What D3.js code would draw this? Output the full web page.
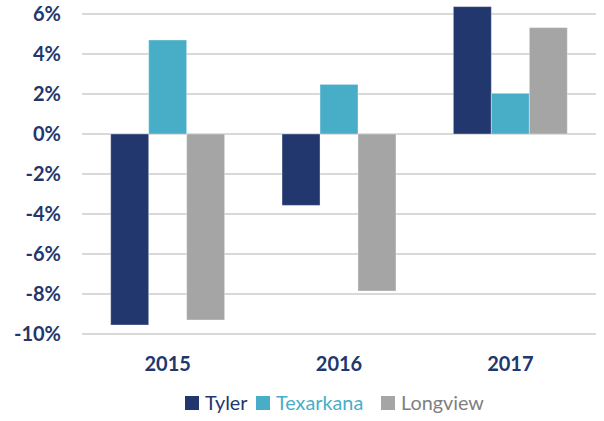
<!DOCTYPE html>
<html>
<head>
<meta charset="utf-8">
<script src="https://cdn.jsdelivr.net/npm/d3@7"></script>
<style>
  body { margin: 0; background: #fff; }
  svg { display: block; }
</style>
</head>
<body>
<div id="chart"></div>
<script>
const years = ['2015', '2016', '2017'];
const seriesNames = ['Tyler', 'Texarkana', 'Longview'];
const tyler = [-9.55, -3.57, 6.37];
const texarkana = [4.7, 2.48, 2.03];
const longview = [-9.3, -7.85, 5.32];
const yTicks = [-10, -8, -6, -4, -2, 0, 2, 4, 6];

const seriesValues = { Tyler: tyler, Texarkana: texarkana, Longview: longview };
const barColor = { Tyler: '#22376e', Texarkana: '#48aec8', Longview: '#a5a5a5' };
const textColor = { Tyler: '#22376e', Texarkana: '#48aec8', Longview: '#7f7f7f' };

const W = 604, H = 421;
const svg = d3.select('#chart').append('svg')
  .attr('width', W).attr('height', H);

const x0 = d3.scaleBand()
  .domain(years)
  .range([82, 596])
  .paddingInner(0.335)
  .paddingOuter(0.1675);

const x1 = d3.scaleBand()
  .domain(seriesNames)
  .range([0, x0.bandwidth()]);

const y = d3.scaleLinear()
  .domain([-10, 6])
  .range([334, 14]);

// gridlines
svg.append('g')
  .selectAll('line')
  .data(yTicks)
  .join('line')
  .attr('x1', 82).attr('x2', 596)
  .attr('y1', d => y(d)).attr('y2', d => y(d))
  .attr('stroke', '#d9d9d9')
  .attr('stroke-width', 2);

// y labels
svg.append('g')
  .selectAll('text')
  .data(yTicks)
  .join('text')
  .attr('x', 61)
  .attr('y', d => y(d) + 7)
  .attr('text-anchor', 'end')
  .style('font-family', 'Lato, sans-serif')
  .style('font-weight', 'bold')
  .style('font-size', '20px')
  .attr('fill', '#22376e')
  .text(d => d + '%');

// bars
const groups = svg.append('g')
  .selectAll('g')
  .data(years)
  .join('g')
  .attr('transform', d => `translate(${x0(d)},0)`);

groups.selectAll('rect')
  .data((d, i) => seriesNames.map(s => ({ s, v: seriesValues[s][i] })))
  .join('rect')
  .attr('x', d => x1(d.s))
  .attr('width', x1.bandwidth())
  .attr('y', d => y(Math.max(0, d.v)))
  .attr('height', d => Math.abs(y(d.v) - y(0)))
  .attr('fill', d => barColor[d.s])
  .attr('stroke', '#ffffff')
  .attr('stroke-opacity', 0.35)
  .attr('stroke-width', 1);

// x labels
svg.append('g')
  .selectAll('text')
  .data(years)
  .join('text')
  .attr('x', d => x0(d) + x0.bandwidth() / 2)
  .attr('y', 370.5)
  .attr('text-anchor', 'middle')
  .style('font-family', 'Lato, sans-serif')
  .style('font-weight', 'bold')
  .style('font-size', '20px')
  .attr('fill', '#22376e')
  .text(d => d);

// legend
const legendX = [185, 256, 381];
const legend = svg.append('g');
seriesNames.forEach((s, i) => {
  const g = legend.append('g').attr('transform', `translate(${legendX[i]}, 396)`);
  g.append('rect').attr('width', 14).attr('height', 14).attr('fill', barColor[s]);
  g.append('text')
    .attr('x', 20).attr('y', 13.5)
    .style('font-family', 'Lato, sans-serif')
    .style('font-size', '19.8px')
    .attr('fill', textColor[s])
    .text(s);
});
</script>
</body>
</html>
